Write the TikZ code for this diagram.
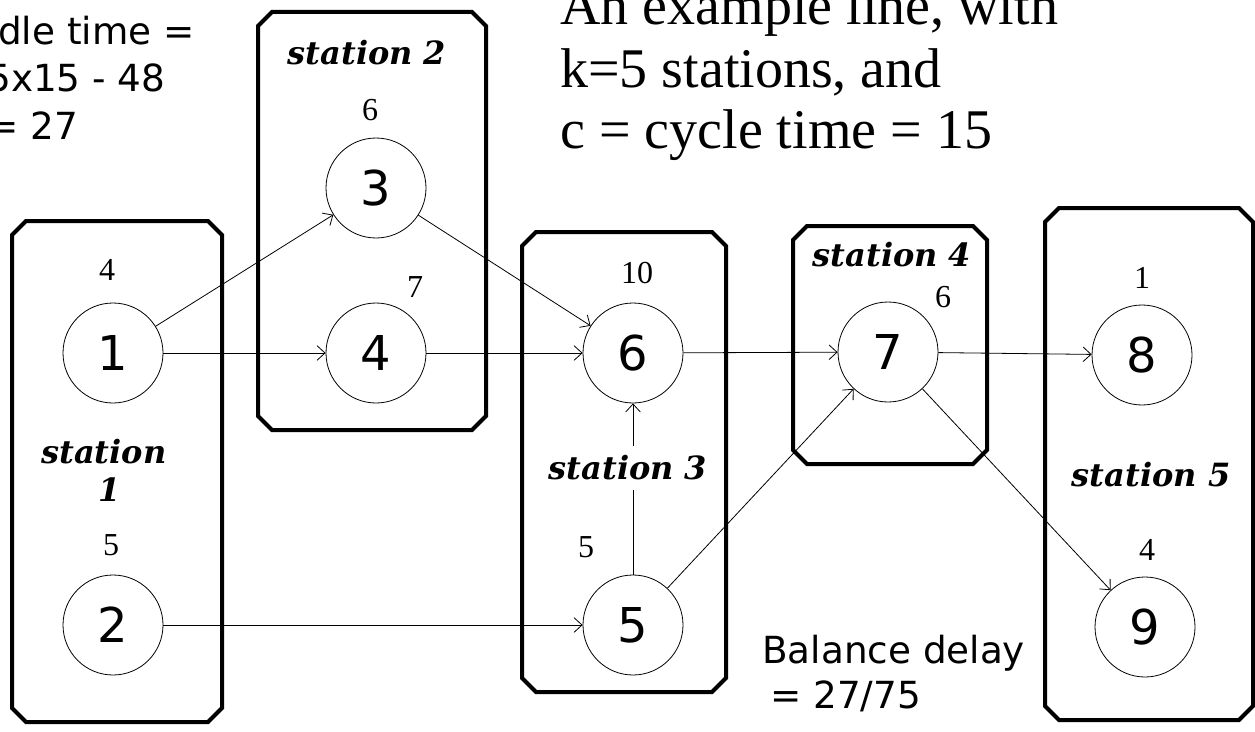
\documentclass[tikz,border=0pt]{standalone}
\usepackage{fontspec}
\setmainfont{Liberation Serif}
\newfontfamily\sansf{DejaVu Sans}
\newfontfamily\stfont{DejaVu Serif}
\usetikzlibrary{arrows.meta}
\newcommand\chbox[4]{\draw[stbox] ({#1+14},#2) -- ({#3-14},#2) -- (#3,{#2+14}) -- (#3,{#4-14}) -- ({#3-14},#4) -- ({#1+14},#4) -- (#1,{#4-14}) -- (#1,{#2+14}) -- cycle;}
\begin{document}
\begin{tikzpicture}[x=0.75pt,y=-0.75pt,
  task/.style={circle, draw, line width=0.6pt, minimum size=75pt, inner sep=0pt, font=\sansf\fontsize{36}{36}\selectfont},
  wt/.style={inner sep=0pt, font=\fontsize{24}{24}\selectfont},
  stl/.style={inner sep=0pt, font=\stfont\bfseries\itshape\fontsize{24}{24}\selectfont},
  stbox/.style={line width=3pt},
  arr/.style={line width=0.6pt, -{Straight Barb[length=6pt,width=11pt]}},
  ln/.style={line width=0.6pt},
  txt/.style={anchor=base west, inner sep=0pt}]
\useasboundingbox (0,0) rectangle (1255,731);
% station boxes
\chbox{12}{221}{222}{722}
\chbox{258}{12}{486}{430}
\chbox{522}{232}{726}{692}
\chbox{793}{226}{987}{464}
\chbox{1045}{208}{1253}{720}
% tasks
\node[task] (1) at (113,353) {1};
\node[task] (2) at (113,625) {2};
\node[task] (3) at (376,188) {3};
\node[task] (4) at (376,353) {4};
\node[task] (6) at (633,353) {6};
\node[task] (5) at (633,625) {5};
\node[task] (7) at (888,352) {7};
\node[task] (8) at (1142,355) {8};
\node[task] (9) at (1145,627) {9};
% task times
\node[wt] (w1) at (107,270) {4};
\node[wt] (w2) at (111,545) {5};
\node[wt] (w3) at (370,110) {6};
\node[wt] (w4) at (415,287) {7};
\node[wt] (w6) at (637,273) {10};
\node[wt] (w5) at (586,547) {5};
\node[wt] (w7) at (943,297) {6};
\node[wt] (w8) at (1142,278) {1};
\node[wt] (w9) at (1147,550) {4};
% station labels
\node[stl] (s1) at (104,452) {station};
\node[stl] (s1b) at (110,490) {1};
\node[stl] (s2) at (367,53) {station 2};
\node[stl, outer sep=7pt] (s3) at (628,468) {station 3};
\node[stl] (s4) at (892,255) {station 4};
\node[stl] (s5) at (1151,475) {station 5};
% connectors
\draw[arr] (1) -- (3);
\draw[arr] (1) -- (4);
\draw[arr] (3) -- (6);
\draw[arr] (4) -- (6);
\draw[arr] (2) -- (5);
\draw[ln] (5) -- (5 |- s3.south);
\draw[arr] (6 |- s3.north) -- (6);
\draw[arr] (5) -- (7);
\draw[arr] (6) -- (7);
\draw[arr] (7) -- (8);
\draw[arr] (7) -- (9);
% texts
\begin{scope}[font=\sansf\fontsize{28}{28}\selectfont]
\node[txt] (idle1) at (-13,45) {Idle time =};
\node[txt] (idle2) at (-13,92) {5x15 - 48};
\node[txt] (idle3) at (-13,140) {= 27};
\node[txt] (bal1) at (762,663) {Balance delay};
\node[txt] (bal2) at (770,708) {= 27/75};
\end{scope}
\begin{scope}[font=\fontsize{42}{42}\selectfont]
\node[txt] (t1) at (560,25) {An example line, with};
\node[txt] (t2) at (560,88) {k=5 stations, and};
\node[txt] (t3) at (560,148) {c = cycle time = 15};
\end{scope}
\end{tikzpicture}
\end{document}
